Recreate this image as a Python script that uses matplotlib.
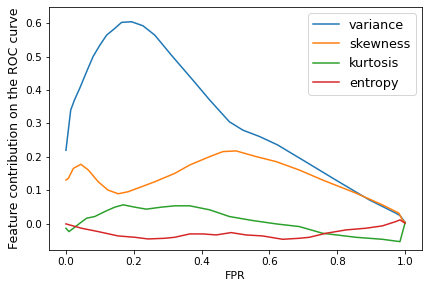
import numpy as np
import matplotlib
matplotlib.use("Agg")
import matplotlib.pyplot as plt

# values
var_x = [0.0, 0.014, 0.025, 0.041, 0.061, 0.08, 0.1, 0.12, 0.144, 0.164, 0.193, 0.227,
         0.262, 0.311, 0.374, 0.424, 0.482, 0.522, 0.571, 0.624, 0.698, 0.796, 0.894, 0.973, 0.985, 1.0]
var_y = [0.22, 0.34, 0.37, 0.406, 0.455, 0.50, 0.534, 0.564, 0.584, 0.602, 0.604, 0.592,
         0.564, 0.504, 0.43, 0.37, 0.305, 0.28, 0.261, 0.236, 0.191, 0.131, 0.072, 0.032, 0.025, 0.005]

skew_x = [0.0, 0.007, 0.022, 0.044, 0.066, 0.095, 0.124, 0.154, 0.183, 0.223, 0.262, 0.321,
          0.365, 0.424, 0.463, 0.502, 0.561, 0.62, 0.688, 0.757, 0.855, 0.933, 0.982, 0.992, 1.0]
skew_y = [0.131, 0.136, 0.166, 0.178, 0.161, 0.126, 0.101, 0.09, 0.096, 0.111, 0.126, 0.151,
          0.176, 0.201, 0.216, 0.218, 0.201, 0.186, 0.161, 0.131, 0.092, 0.057, 0.032, 0.012, 0.005]

kurt_x = [0.0, 0.009, 0.022, 0.041, 0.061, 0.085, 0.115, 0.144, 0.169, 0.203, 0.237, 0.281,
          0.321, 0.365, 0.424, 0.482, 0.551, 0.62, 0.688, 0.757, 0.855, 0.933, 0.985, 1.0]
kurt_y = [-0.013, -0.023, -0.013, 0.002, 0.017, 0.022, 0.037, 0.05, 0.057, 0.05, 0.044, 0.05,
          0.054, 0.054, 0.042, 0.022, 0.01, 0.0, -0.008, -0.028, -0.04, -0.046, -0.053, 0.003]

ent_x = [0.0, 0.046, 0.095, 0.154, 0.203, 0.242, 0.291, 0.321, 0.365, 0.404, 0.443, 0.487,
         0.531, 0.58, 0.639, 0.688, 0.718, 0.767, 0.826, 0.884, 0.933, 0.973, 0.985, 1.0]
ent_y = [0.0, -0.013, -0.023, -0.036, -0.04, -0.045, -0.043, -0.04, -0.03, -0.03, -0.033, -0.026,
         -0.033, -0.036, -0.046, -0.043, -0.04, -0.028, -0.018, -0.013, -0.006, 0.007, 0.012, 0.002]

fig = plt.figure(figsize=(429 / 72, 292 / 72), dpi=72)
ax = fig.add_axes([49 / 429, 1 - 250 / 292, 373 / 429, 243 / 292])

ax.plot(var_x, var_y, label="variance")
ax.plot(skew_x, skew_y, label="skewness")
ax.plot(kurt_x, kurt_y, label="kurtosis")
ax.plot(ent_x, ent_y, label="entropy")

ax.set_xlim(-0.05, 1.05)
ax.set_ylim(-0.078, 0.648)
ax.tick_params(labelsize=10.5)
ax.set_xlabel("FPR", fontsize=11)
ax.set_ylabel("Feature contribution on the ROC curve", fontsize=12.5)
ax.legend(loc="upper right", fontsize=12.8)

fig.savefig("out.png", dpi=72)
